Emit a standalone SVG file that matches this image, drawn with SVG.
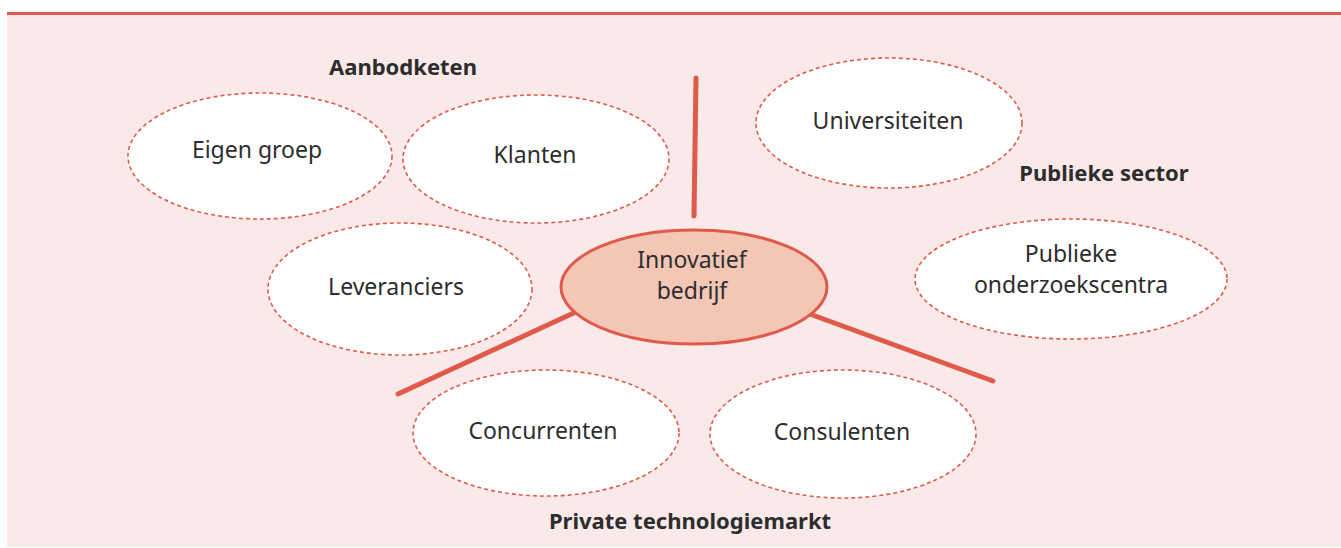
<svg xmlns="http://www.w3.org/2000/svg" width="1341" height="548" viewBox="0 0 1341 548">
<style>
.bg{fill:#f9e9e8}
.node{fill:#ffffff;stroke:#e05a4b;stroke-width:1.6;stroke-dasharray:4 3}
.core{fill:#f3c6b6;stroke:#e05a4b;stroke-width:3}
.lbl{font-family:"Noto Sans","DejaVu Sans",sans-serif;font-size:23px;fill:#2d2d2d;text-anchor:middle}
.grp{font-family:"Noto Sans","DejaVu Sans",sans-serif;font-size:22px;font-weight:bold;fill:#2d2d2d;text-anchor:middle}
.conn{stroke:#e05a4b;stroke-width:5;stroke-linecap:round;fill:none}
</style>
<rect class="bg" x="7" y="14" width="1334" height="533"/>
<rect x="7" y="12" width="1334" height="3" fill="#e05a4b"/>
<g id="connectors">
<line class="conn" x1="696" y1="78" x2="694" y2="216"/>
<line class="conn" x1="398" y1="394" x2="578" y2="311"/>
<line class="conn" x1="807" y1="313" x2="993" y2="381"/>
</g>
<g id="eigen-groep"><ellipse class="node" cx="260" cy="156" rx="132" ry="63"/><text class="lbl" x="257" y="158">Eigen groep</text></g>
<g id="klanten"><ellipse class="node" cx="536" cy="159" rx="133" ry="64"/><text class="lbl" x="535" y="163">Klanten</text></g>
<g id="universiteiten"><ellipse class="node" cx="889" cy="123" rx="133" ry="65"/><text class="lbl" x="888" y="129">Universiteiten</text></g>
<g id="leveranciers"><ellipse class="node" cx="400" cy="289" rx="132" ry="66"/><text class="lbl" x="396" y="295">Leveranciers</text></g>
<g id="publieke-onderzoekscentra"><ellipse class="node" cx="1071" cy="279" rx="156" ry="60"/><text class="lbl" x="1071" y="262">Publieke</text><text class="lbl" x="1071" y="293">onderzoekscentra</text></g>
<g id="concurrenten"><ellipse class="node" cx="546" cy="433" rx="133" ry="63"/><text class="lbl" x="543" y="439">Concurrenten</text></g>
<g id="consulenten"><ellipse class="node" cx="843" cy="434" rx="133" ry="64"/><text class="lbl" x="842" y="440">Consulenten</text></g>
<g id="innovatief-bedrijf"><ellipse class="core" cx="694" cy="287" rx="133" ry="57"/><text class="lbl" x="692" y="268">Innovatief</text><text class="lbl" x="692" y="299">bedrijf</text></g>
<g id="labels">
<text class="grp" x="403" y="75">Aanbodketen</text>
<text class="grp" x="1104" y="181">Publieke sector</text>
<text class="grp" x="690" y="529">Private technologiemarkt</text>
</g>
</svg>
